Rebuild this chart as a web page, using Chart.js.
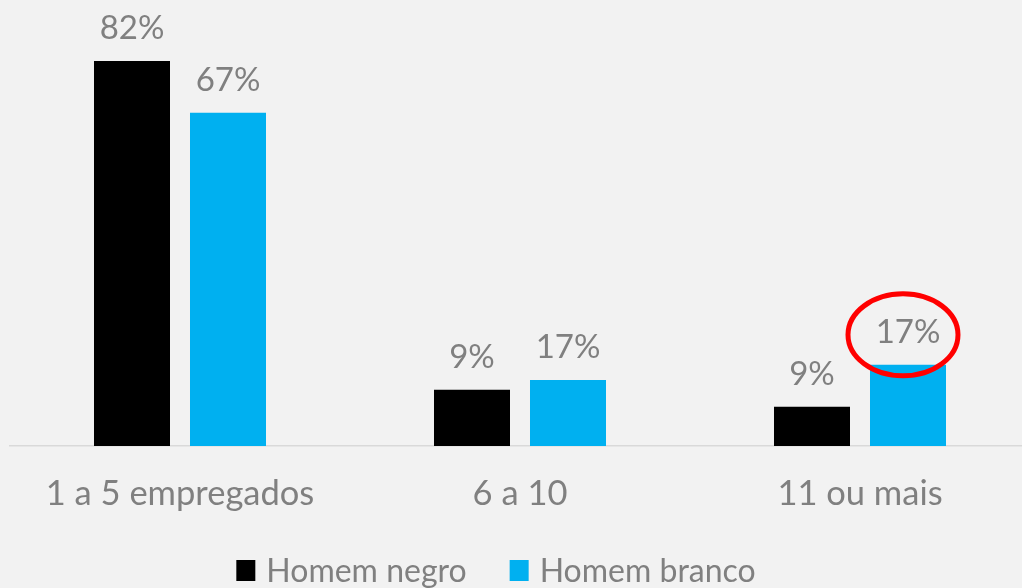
<!DOCTYPE html>
<html>
<head>
<meta charset="utf-8">
<script src="https://cdn.jsdelivr.net/npm/chart.js@4/dist/chart.umd.min.js"></script>
<style>
  html, body { margin: 0; padding: 0; background: #f2f2f2; overflow: hidden; }
  #wrap { width: 1022px; height: 588px; overflow: hidden; }
  canvas { display: block; }
</style>
</head>
<body>
<div id="wrap"><canvas id="c" width="1040" height="588"></canvas></div>
<script>
const categories = ['1 a 5 empregados', '6 a 10', '11 ou mais'];
const seriesNames = ['Homem negro', 'Homem branco'];
// bar heights as drawn in the picture
const homemNegro = [82, 12.0, 8.4];
const homemBranco = [71.0, 14.1, 17.3];
// printed data labels
const labelsNegro = ['82%', '9%', '9%'];
const labelsBranco = ['67%', '17%', '17%'];
const yMax = 90;
const highlight = { dataset: 1, index: 2 };

const FONT = 'Lato, "Open Sans", sans-serif';
const GRAY = '#808080';
const colors = ['#000000', '#00b0f0'];

const dataLabels = {
  id: 'dataLabels',
  afterDatasetsDraw(chart) {
    const ctx = chart.ctx;
    const labelSets = [labelsNegro, labelsBranco];
    ctx.save();
    ctx.font = '33px ' + FONT;
    ctx.fillStyle = GRAY;
    ctx.textAlign = 'center';
    ctx.textBaseline = 'alphabetic';
    chart.data.datasets.forEach((ds, di) => {
      chart.getDatasetMeta(di).data.forEach((bar, i) => {
        ctx.fillText(labelSets[di][i], bar.x, bar.y - 22);
      });
    });
    // red highlight ellipse
    const b = chart.getDatasetMeta(highlight.dataset).data[highlight.index];
    ctx.beginPath();
    ctx.ellipse(b.x - 5, b.y - 30, 55, 41, 0, 0, Math.PI * 2);
    ctx.strokeStyle = '#ff0000';
    ctx.lineWidth = 5;
    ctx.stroke();
    ctx.restore();
  }
};

const customLegend = {
  id: 'customLegend',
  afterDraw(chart) {
    const ctx = chart.ctx;
    ctx.save();
    ctx.font = '32px ' + FONT;
    ctx.textBaseline = 'alphabetic';
    ctx.textAlign = 'left';
    const box = 20, gapBoxText = 10, gapItems = 43;
    const widths = seriesNames.map(n => ctx.measureText(n).width);
    let total = 0;
    widths.forEach((w, i) => { total += box + gapBoxText + w + (i ? gapItems : 0); });
    let x = 496 - total / 2;
    const baseY = 582;
    seriesNames.forEach((n, i) => {
      ctx.fillStyle = colors[i];
      ctx.fillRect(x, baseY - 22, box - 1, box + 1);
      x += box + gapBoxText;
      ctx.fillStyle = GRAY;
      ctx.fillText(n, x, baseY);
      x += widths[i] + gapItems;
    });
    ctx.restore();
  }
};

new Chart(document.getElementById('c'), {
  type: 'bar',
  data: {
    labels: categories,
    datasets: [
      { label: seriesNames[0], data: homemNegro, backgroundColor: colors[0], categoryPercentage: 0.5647, barPercentage: 0.7917 },
      { label: seriesNames[1], data: homemBranco, backgroundColor: colors[1], categoryPercentage: 0.5647, barPercentage: 0.7917 }
    ]
  },
  options: {
    responsive: false,
    animation: false,
    layout: { padding: { left: 10, right: 10, top: 23.5, bottom: 46.5 } },
    plugins: { legend: { display: false }, tooltip: { enabled: false } },
    scales: {
      x: {
        grid: { display: false, drawTicks: false },
        border: { display: true, color: '#d9d9d9', width: 1.5 },
        ticks: { color: GRAY, font: { family: FONT, size: 34.5 }, padding: 27 }
      },
      y: {
        display: false,
        min: 0, max: yMax
      }
    }
  },
  plugins: [dataLabels, customLegend]
});
</script>
</body>
</html>
